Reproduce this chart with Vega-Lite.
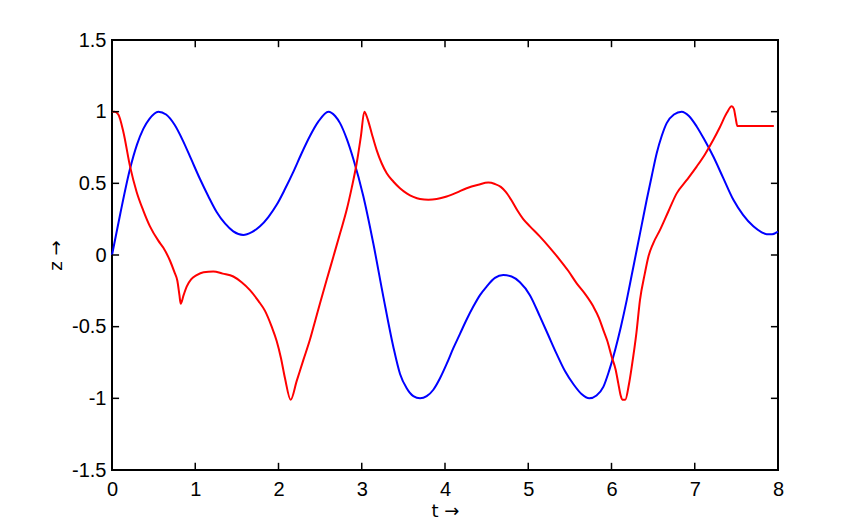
{
  "$schema": "https://vega.github.io/schema/vega-lite/v6.json",
  "width": 666,
  "height": 430,
  "autosize": "none",
  "padding": {"left": 112, "top": 40, "right": 83, "bottom": 59},
  "background": "white",
  "datasets": {
    "blue": [
      {"t":0,"z":0},{"t":0.1,"z":0.29},{"t":0.216,"z":0.6},{"t":0.3,"z":0.77},{"t":0.376,"z":0.88},{"t":0.45,"z":0.95},{"t":0.556,"z":1.0},{"t":0.65,"z":0.98},{"t":0.75,"z":0.91},{"t":0.85,"z":0.8},{"t":0.95,"z":0.67},{"t":1.057,"z":0.53},{"t":1.157,"z":0.41},{"t":1.257,"z":0.3},{"t":1.357,"z":0.22},{"t":1.457,"z":0.165},{"t":1.577,"z":0.14},{"t":1.68,"z":0.16},{"t":1.778,"z":0.2},{"t":1.878,"z":0.265},{"t":1.978,"z":0.35},{"t":2.078,"z":0.46},{"t":2.178,"z":0.58},{"t":2.278,"z":0.71},{"t":2.378,"z":0.83},{"t":2.478,"z":0.93},{"t":2.6,"z":1.0},{"t":2.68,"z":0.97},{"t":2.739,"z":0.92},{"t":2.82,"z":0.81},{"t":2.899,"z":0.67},{"t":3.019,"z":0.41},{"t":3.139,"z":0.08},{"t":3.259,"z":-0.29},{"t":3.379,"z":-0.64},{"t":3.46,"z":-0.83},{"t":3.54,"z":-0.93},{"t":3.62,"z":-0.985},{"t":3.7,"z":-1.0},{"t":3.78,"z":-0.985},{"t":3.86,"z":-0.94},{"t":3.94,"z":-0.86},{"t":4.02,"z":-0.76},{"t":4.1,"z":-0.65},{"t":4.18,"z":-0.55},{"t":4.26,"z":-0.45},{"t":4.34,"z":-0.36},{"t":4.42,"z":-0.28},{"t":4.5,"z":-0.22},{"t":4.6,"z":-0.16},{"t":4.7,"z":-0.14},{"t":4.8,"z":-0.15},{"t":4.9,"z":-0.19},{"t":5.02,"z":-0.28},{"t":5.141,"z":-0.43},{"t":5.241,"z":-0.56},{"t":5.341,"z":-0.69},{"t":5.441,"z":-0.81},{"t":5.541,"z":-0.9},{"t":5.64,"z":-0.97},{"t":5.733,"z":-1.0},{"t":5.82,"z":-0.98},{"t":5.902,"z":-0.92},{"t":5.97,"z":-0.81},{"t":6.043,"z":-0.664},{"t":6.113,"z":-0.5},{"t":6.183,"z":-0.315},{"t":6.243,"z":-0.14},{"t":6.303,"z":0.035},{"t":6.363,"z":0.21},{"t":6.423,"z":0.385},{"t":6.483,"z":0.55},{"t":6.543,"z":0.71},{"t":6.603,"z":0.83},{"t":6.663,"z":0.92},{"t":6.75,"z":0.98},{"t":6.843,"z":1.0},{"t":6.93,"z":0.97},{"t":7.023,"z":0.897},{"t":7.12,"z":0.8},{"t":7.223,"z":0.687},{"t":7.34,"z":0.54},{"t":7.464,"z":0.385},{"t":7.58,"z":0.28},{"t":7.704,"z":0.2},{"t":7.8,"z":0.16},{"t":7.864,"z":0.145},{"t":7.93,"z":0.145},{"t":8.0,"z":0.163}
    ],
    "red": [
      {"t":0,"z":1.0},{"t":0.03,"z":1.0},{"t":0.076,"z":0.98},{"t":0.136,"z":0.86},{"t":0.216,"z":0.62},{"t":0.296,"z":0.44},{"t":0.376,"z":0.31},{"t":0.456,"z":0.2},{"t":0.556,"z":0.1},{"t":0.617,"z":0.05},{"t":0.697,"z":-0.04},{"t":0.75,"z":-0.12},{"t":0.785,"z":-0.18},{"t":0.81,"z":-0.28},{"t":0.825,"z":-0.34},{"t":0.86,"z":-0.28},{"t":0.897,"z":-0.22},{"t":0.95,"z":-0.17},{"t":1.017,"z":-0.14},{"t":1.1,"z":-0.12},{"t":1.217,"z":-0.115},{"t":1.33,"z":-0.13},{"t":1.457,"z":-0.15},{"t":1.557,"z":-0.19},{"t":1.657,"z":-0.245},{"t":1.758,"z":-0.32},{"t":1.838,"z":-0.39},{"t":1.918,"z":-0.5},{"t":1.978,"z":-0.6},{"t":2.03,"z":-0.72},{"t":2.078,"z":-0.86},{"t":2.146,"z":-1.01},{"t":2.218,"z":-0.88},{"t":2.3,"z":-0.73},{"t":2.378,"z":-0.59},{"t":2.44,"z":-0.46},{"t":2.498,"z":-0.338},{"t":2.578,"z":-0.175},{"t":2.659,"z":-0.012},{"t":2.739,"z":0.15},{"t":2.819,"z":0.315},{"t":2.88,"z":0.47},{"t":2.939,"z":0.64},{"t":2.99,"z":0.83},{"t":3.031,"z":1.0},{"t":3.07,"z":0.95},{"t":3.119,"z":0.85},{"t":3.18,"z":0.73},{"t":3.239,"z":0.64},{"t":3.3,"z":0.57},{"t":3.379,"z":0.513},{"t":3.459,"z":0.466},{"t":3.54,"z":0.43},{"t":3.62,"z":0.405},{"t":3.7,"z":0.39},{"t":3.8,"z":0.385},{"t":3.9,"z":0.39},{"t":4.02,"z":0.408},{"t":4.14,"z":0.435},{"t":4.26,"z":0.466},{"t":4.4,"z":0.49},{"t":4.52,"z":0.505},{"t":4.6,"z":0.495},{"t":4.67,"z":0.475},{"t":4.73,"z":0.44},{"t":4.8,"z":0.38},{"t":4.87,"z":0.31},{"t":4.94,"z":0.25},{"t":5.02,"z":0.2},{"t":5.141,"z":0.128},{"t":5.26,"z":0.05},{"t":5.381,"z":-0.035},{"t":5.48,"z":-0.11},{"t":5.582,"z":-0.198},{"t":5.68,"z":-0.27},{"t":5.782,"z":-0.36},{"t":5.85,"z":-0.44},{"t":5.902,"z":-0.524},{"t":5.95,"z":-0.6},{"t":6.002,"z":-0.71},{"t":6.05,"z":-0.8},{"t":6.082,"z":-0.897},{"t":6.11,"z":-0.98},{"t":6.13,"z":-1.01},{"t":6.165,"z":-1.01},{"t":6.21,"z":-0.9},{"t":6.243,"z":-0.78},{"t":6.3,"z":-0.54},{"t":6.342,"z":-0.315},{"t":6.4,"z":-0.13},{"t":6.443,"z":-0.012},{"t":6.5,"z":0.08},{"t":6.583,"z":0.175},{"t":6.68,"z":0.3},{"t":6.783,"z":0.43},{"t":6.9,"z":0.52},{"t":7.023,"z":0.617},{"t":7.12,"z":0.7},{"t":7.223,"z":0.804},{"t":7.3,"z":0.89},{"t":7.384,"z":0.99},{"t":7.444,"z":1.037},{"t":7.47,"z":1.02},{"t":7.49,"z":0.96},{"t":7.512,"z":0.9},{"t":7.6,"z":0.9},{"t":7.7,"z":0.9},{"t":7.8,"z":0.9},{"t":7.95,"z":0.9}
    ],
    "xticks": [{"t":1},{"t":2},{"t":3},{"t":4},{"t":5},{"t":6},{"t":7}],
    "yticks": [{"z":-1},{"z":-0.5},{"z":0},{"z":0.5},{"z":1}]
  },
  "config": {
    "font": "Liberation Sans",
    "view": {"stroke": "black", "strokeWidth": 2},
    "axis": {
      "grid": false,
      "domain": false,
      "ticks": false,
      "labelFontSize": 20,
      "labelColor": "black",
      "labelFlush": false,
      "labelOverlap": false,
      "labelBound": false,
      "titleFont": "DejaVu Sans",
      "titleFontSize": 18,
      "titleFontWeight": "normal",
      "titleColor": "black"
    }
  },
  "layer": [
    {
      "data": {"name": "blue"},
      "mark": {"type": "line", "interpolate": "monotone", "color": "#0000ff", "strokeWidth": 2},
      "encoding": {
        "x": {"field": "t", "type": "quantitative", "scale": {"domain": [0, 8], "nice": false, "zero": false},
          "axis": {"orient": "bottom", "values": [0,1,2,3,4,5,6,7,8], "labelPadding": 9, "title": "t →", "titlePadding": 3}},
        "y": {"field": "z", "type": "quantitative", "scale": {"domain": [-1.5, 1.5], "nice": false, "zero": false},
          "axis": {"orient": "left", "values": [-1.5,-1,-0.5,0,0.5,1,1.5], "labelPadding": 6, "title": "z →", "titlePadding": 6,
            "labelExpr": "datum.value < 0 ? '-' + format(-datum.value, '') : format(datum.value, '')"}}
      }
    },
    {
      "data": {"name": "red"},
      "mark": {"type": "line", "interpolate": "monotone", "color": "#ff0000", "strokeWidth": 2},
      "encoding": {
        "x": {"field": "t", "type": "quantitative", "axis": null},
        "y": {"field": "z", "type": "quantitative", "axis": null}
      }
    },
    {
      "data": {"name": "xticks"},
      "mark": {"type": "rule", "color": "black", "strokeWidth": 1.5},
      "encoding": {
        "x": {"field": "t", "type": "quantitative", "axis": null},
        "y": {"datum": -1.5, "type": "quantitative", "axis": null},
        "y2": {"datum": -1.45}
      }
    },
    {
      "data": {"name": "xticks"},
      "mark": {"type": "rule", "color": "black", "strokeWidth": 1.5},
      "encoding": {
        "x": {"field": "t", "type": "quantitative", "axis": null},
        "y": {"datum": 1.5, "type": "quantitative", "axis": null},
        "y2": {"datum": 1.45}
      }
    },
    {
      "data": {"name": "yticks"},
      "mark": {"type": "rule", "color": "black", "strokeWidth": 1.5},
      "encoding": {
        "y": {"field": "z", "type": "quantitative", "axis": null},
        "x": {"datum": 0, "type": "quantitative", "axis": null},
        "x2": {"datum": 0.085}
      }
    },
    {
      "data": {"name": "yticks"},
      "mark": {"type": "rule", "color": "black", "strokeWidth": 1.5},
      "encoding": {
        "y": {"field": "z", "type": "quantitative", "axis": null},
        "x": {"datum": 8, "type": "quantitative", "axis": null},
        "x2": {"datum": 7.915}
      }
    }
  ],
  "resolve": {"axis": {"x": "independent", "y": "independent"}}
}
